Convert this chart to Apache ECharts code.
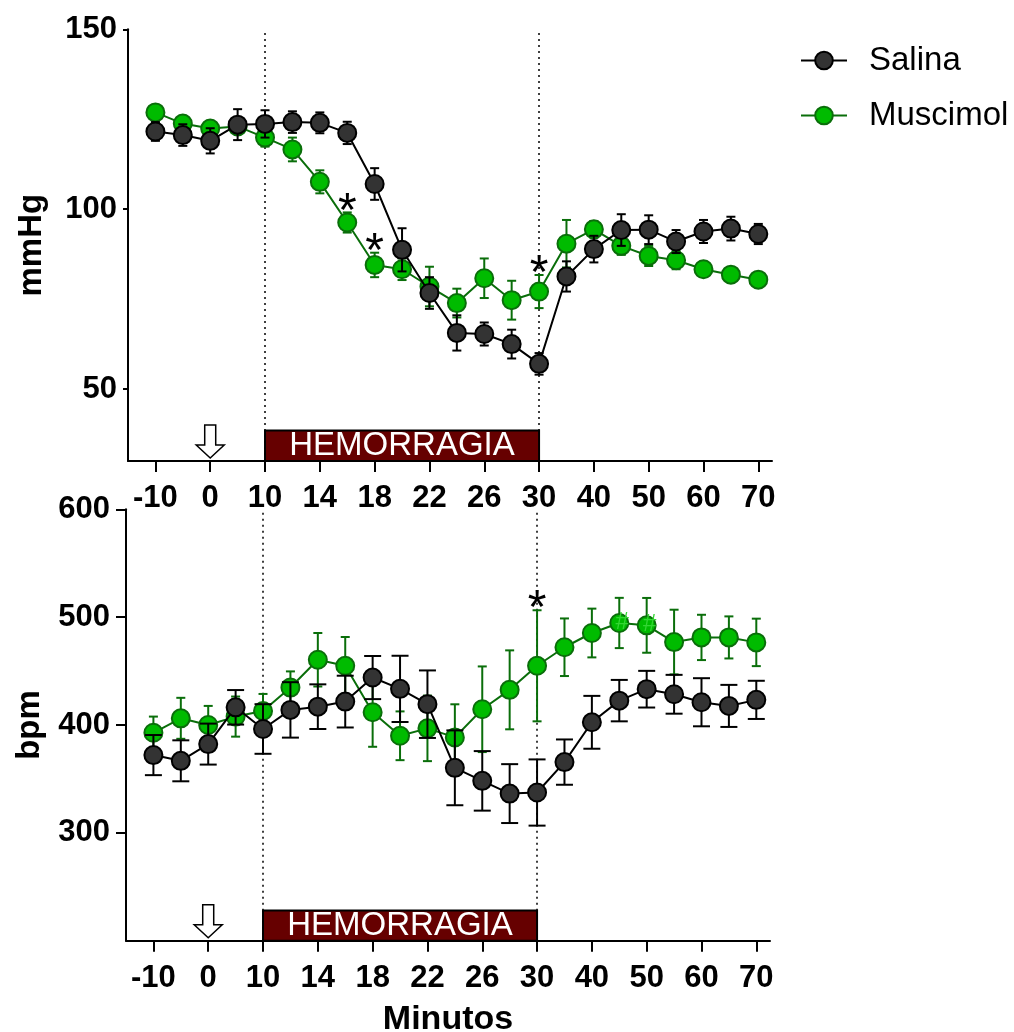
<!DOCTYPE html>
<html>
<head>
<meta charset="utf-8">
<script src="https://cdn.jsdelivr.net/npm/echarts@6/dist/echarts.min.js"></script>
<style>
html, body { margin: 0; padding: 0; background: #fff; }
#main { width: 1014px; height: 1032px; }
</style>
</head>
<body>
<div id="main"></div>
<script>
// time points (min), drawn evenly spaced
var minutes = [-10, -5, 0, 5, 10, 12, 14, 16, 18, 20, 22, 24, 26, 28, 30, 35, 40, 45, 50, 55, 60, 65, 70];
var tickMinutes = [-10, 0, 10, 14, 18, 22, 26, 30, 40, 50, 60, 70];

// top panel - mmHg
var pamSalina = [121.6, 120.6, 119.0, 123.5, 123.7, 124.2, 124.0, 121.2, 107.0, 88.7, 76.7, 65.6, 65.3, 62.5, 57.0, 81.3, 88.9, 94.2, 94.3, 91.0, 93.8, 94.6, 93.1];
var pamSalinaErr = [2.6, 3.0, 3.5, 4.3, 3.8, 3.0, 2.9, 3.1, 4.4, 6.0, 4.4, 4.9, 3.2, 4.0, 3.0, 4.2, 3.7, 4.4, 4.0, 3.2, 3.2, 3.3, 2.8];
var pamMuscimol = [126.9, 123.8, 122.4, 123.0, 119.9, 116.6, 107.6, 96.3, 84.5, 83.3, 78.5, 73.9, 80.8, 74.7, 77.1, 90.4, 94.4, 89.8, 87.0, 85.8, 83.3, 81.8, 80.4];
var pamMuscimolErr = [1.5, 2.0, 2.0, 2.0, 2.5, 3.3, 3.2, 2.8, 3.4, 3.0, 5.5, 4.0, 5.5, 5.4, 4.6, 6.6, 2.3, 2.5, 2.8, 2.5, 1.5, 1.5, 1.5];
var pamStars = [16, 18, 30];

// bottom panel - bpm
var fcSalina = [372.1, 366.8, 382.3, 416.4, 396.3, 414.0, 417.0, 421.7, 444.0, 433.5, 419.3, 360.3, 348.2, 336.4, 337.4, 365.6, 402.5, 422.6, 433.2, 428.5, 421.1, 417.7, 423.3];
var fcSalinaErr = [18.6, 19, 19, 16, 23, 25.7, 20.7, 24, 20, 30.7, 31.3, 34.7, 27.6, 27.3, 30.7, 21, 24.5, 19.2, 17, 18, 22.3, 19.5, 17.7];
var fcMuscimol = [392.8, 406.2, 400.0, 407.8, 413.0, 434.7, 460.5, 454.9, 411.8, 390.0, 396.9, 388.5, 414.6, 432.6, 454.9, 472.1, 485.3, 494.6, 492.4, 476.9, 481.2, 481.2, 476.6];
var fcMuscimolErr = [15, 19, 17.7, 18.6, 15.8, 15, 24.8, 26.7, 32, 22.6, 30.4, 30.7, 39.7, 36.6, 51.5, 26.7, 22.6, 23.3, 25.4, 30, 21, 19.5, 22];
var fcStars = [30];
var fcHash = [45, 50];

var injectAt = 0;
var hemStart = 10, hemEnd = 30;

var FONT = 'Liberation Sans, Arial, sans-serif';
var idx = function (m) { return minutes.indexOf(m); };
var tickIdx = tickMinutes.map(idx);

function xAxisFor(g, name) {
	return {
		type: 'value', gridIndex: g, min: -1, max: 22.5,
		name: name || '', nameLocation: 'middle', nameGap: 62,
		nameTextStyle: { color: '#000', fontSize: 34, fontWeight: 'bold', fontFamily: FONT },
		axisLine: { show: true, onZero: false, lineStyle: { color: '#000', width: 2 } },
		axisTick: { show: true, customValues: tickIdx, length: 11, lineStyle: { color: '#000', width: 2 } },
		axisLabel: {
			customValues: tickIdx, margin: 22, color: '#000', fontSize: 31, fontWeight: 'bold', fontFamily: FONT,
			formatter: function (v) { return String(minutes[Math.round(v)]); }
		},
		splitLine: { show: false }
	};
}

function yAxisFor(g, min, max, labels, name, tickLen, gap) {
	return {
		type: 'value', gridIndex: g, min: min, max: max,
		name: name, nameLocation: 'middle', nameGap: 80,
		nameTextStyle: { color: '#000', fontSize: 33, fontWeight: 'bold', fontFamily: FONT },
		axisLine: { show: true, onZero: false, lineStyle: { color: '#000', width: 2 } },
		axisTick: { show: true, customValues: labels, length: tickLen, lineStyle: { color: '#000', width: 2 } },
		axisLabel: { customValues: labels, margin: gap, color: '#000', fontSize: 31, fontWeight: 'bold', fontFamily: FONT },
		splitLine: { show: false }
	};
}

function errorBars(g, vals, errs, color, capHalf, z) {
	return {
		type: 'custom', xAxisIndex: g, yAxisIndex: g, z: z, silent: true,
		data: vals.map(function (v, i) { return [i, v - errs[i], v + errs[i]]; }),
		encode: { x: 0, y: [1, 2] },
		renderItem: function (params, api) {
			var x = api.value(0);
			var lo = api.coord([x, api.value(1)]);
			var hi = api.coord([x, api.value(2)]);
			var st = { stroke: color, lineWidth: 2 };
			return {
				type: 'group', children: [
					{ type: 'line', shape: { x1: lo[0], y1: lo[1], x2: hi[0], y2: hi[1] }, style: st },
					{ type: 'line', shape: { x1: hi[0] - capHalf, y1: hi[1], x2: hi[0] + capHalf, y2: hi[1] }, style: st },
					{ type: 'line', shape: { x1: lo[0] - capHalf, y1: lo[1], x2: lo[0] + capHalf, y2: lo[1] }, style: st }
				]
			};
		}
	};
}

function lineSeries(g, name, vals, fill, stroke, z, marks) {
	var s = {
		type: 'line', name: name, xAxisIndex: g, yAxisIndex: g, z: z,
		data: vals.map(function (v, i) { return [i, v]; }),
		symbol: 'circle', symbolSize: 18, showSymbol: true,
		itemStyle: { color: fill, borderColor: stroke, borderWidth: 2 },
		lineStyle: { color: stroke, width: 2 }
	};
	if (marks) s.markPoint = marks;
	return s;
}

function starMarks(list, vals, errs, extra) {
	var data = list.map(function (m) {
		var i = idx(m);
		return { coord: [i, vals[i] + errs[i]], label: { formatter: '*' } };
	});
	(extra || []).forEach(function (m) {
		var i = idx(m);
		data.push({
			coord: [i, vals[i]],
			label: { formatter: '#', fontSize: 24, fontWeight: 'normal', color: '#33d633', offset: [3, -1] }
		});
	});
	return {
		symbol: 'circle', symbolSize: 0, silent: true, animation: false, z: 10,
		label: { show: true, position: 'inside', color: '#000', fontSize: 48, fontFamily: FONT, offset: [0, 0] },
		data: data
	};
}

// arrow + hemorrhage box + dotted lines
function overlay(g, ymin, boxTop) {
	return {
		type: 'custom', xAxisIndex: g, yAxisIndex: g, z: 1, silent: true,
		data: [[idx(injectAt), ymin]],
		renderItem: function (params, api) {
			var p = api.coord([api.value(0), api.value(1)]);
			var tx = p[0], ty = p[1] - 3;
			return {
				type: 'polygon',
				shape: { points: [
					[tx, ty], [tx - 14, ty - 13], [tx - 5.5, ty - 13], [tx - 5.5, ty - 33],
					[tx + 5.5, ty - 33], [tx + 5.5, ty - 13], [tx + 14, ty - 13]
				] },
				style: { fill: '#fff', stroke: '#000', lineWidth: 1.5 }
			};
		},
		markLine: {
			silent: true, symbol: 'none', z: 1, label: { show: false },
			lineStyle: { color: '#000', type: [2, 4], width: 1.5 },
			data: [{ xAxis: idx(hemStart) }, { xAxis: idx(hemEnd) }]
		},
		markArea: {
			silent: true, z: 2,
			itemStyle: { color: '#660000', borderColor: '#000', borderWidth: 2 },
			label: { show: true, position: 'inside', color: '#fff', fontSize: 33, fontFamily: FONT },
			data: [[{ name: 'HEMORRAGIA', xAxis: idx(hemStart), yAxis: ymin }, { xAxis: idx(hemEnd), yAxis: boxTop }]]
		}
	};
}

var chart = echarts.init(document.getElementById('main'));
chart.setOption({
	animation: false,
	backgroundColor: '#fff',
	legend: {
		data: ['Salina', 'Muscimol'], orient: 'vertical', left: 795, top: 39,
		itemWidth: 46, itemHeight: 22, itemGap: 22, selectedMode: false,
		textStyle: { color: '#000', fontSize: 33, fontFamily: FONT, padding: [0, 0, 0, 17] }
	},
	grid: [
		{ left: 128, right: 242, top: 29.3, height: 431.7, outerBoundsMode: 'none' },
		{ left: 126, right: 244, top: 509.3, height: 431.4, outerBoundsMode: 'none' }
	],
	xAxis: [xAxisFor(0), xAxisFor(1, 'Minutos')],
	yAxis: [
		yAxisFor(0, 30, 150, [50, 100, 150], 'mmHg', 5, 11),
		yAxisFor(1, 200, 600, [300, 400, 500, 600], 'bpm', 10, 16)
	],
	series: [
		overlay(0, 30, 38.5),
		errorBars(0, pamMuscimol, pamMuscimolErr, '#0a6e0a', 4.5, 2),
		lineSeries(0, 'Muscimol', pamMuscimol, '#00bb00', '#0a6e0a', 3, starMarks(pamStars, pamMuscimol, pamMuscimolErr)),
		errorBars(0, pamSalina, pamSalinaErr, '#000', 4.5, 4),
		lineSeries(0, 'Salina', pamSalina, '#333333', '#000', 5),

		overlay(1, 200, 228),
		errorBars(1, fcMuscimol, fcMuscimolErr, '#0a6e0a', 4.5, 2),
		lineSeries(1, 'Muscimol', fcMuscimol, '#00bb00', '#0a6e0a', 3, starMarks(fcStars, fcMuscimol, fcMuscimolErr, fcHash)),
		errorBars(1, fcSalina, fcSalinaErr, '#000', 8.5, 4),
		lineSeries(1, 'Salina', fcSalina, '#333333', '#000', 5)
	]
});
</script>
</body>
</html>
